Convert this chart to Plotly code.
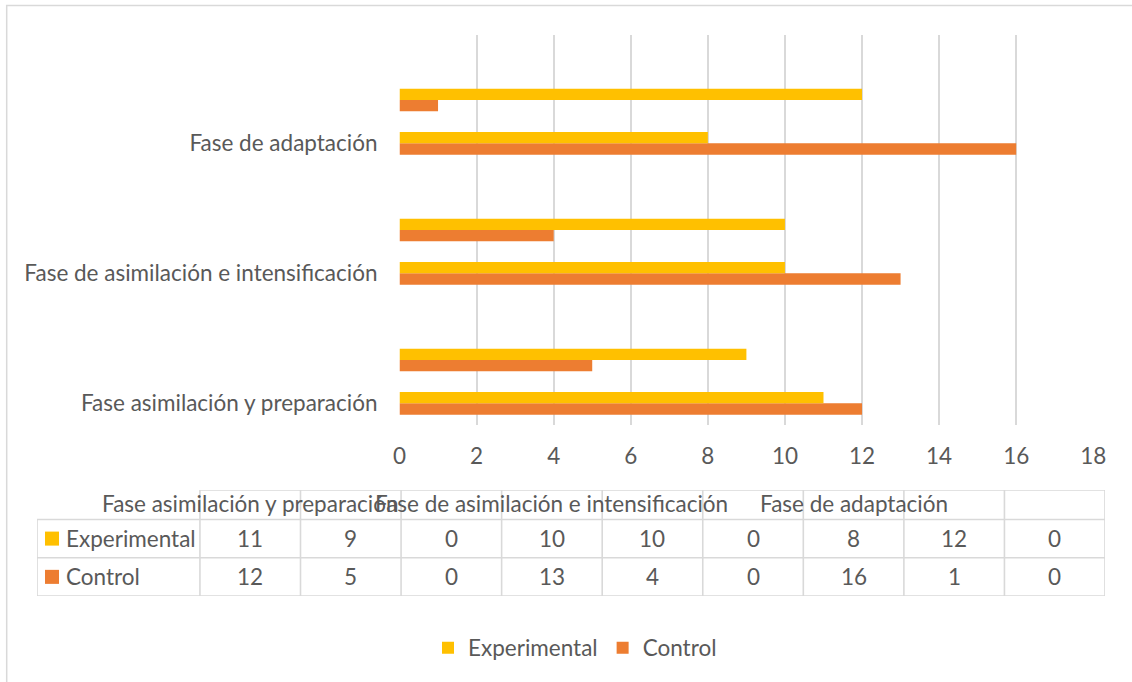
import plotly.graph_objects as go

# ---------------- data ----------------
categories = ["Fase asimilación y preparación", "", "",
              "Fase de asimilación e intensificación", "", "",
              "Fase de adaptación", "", ""]
series_names = ["Experimental", "Control"]
experimental = [11, 9, 0, 10, 10, 0, 8, 12, 0]
control = [12, 5, 0, 13, 4, 0, 16, 1, 0]
x_ticks = [0, 2, 4, 6, 8, 10, 12, 14, 16, 18]

# ---------------- style ----------------
YELLOW = "#FFC000"
ORANGE = "#ED7D31"
TEXT = "#595959"
GRID = "#D9D9D9"
FONT = "Lato"
FS = 22.5

W, H = 1132, 682
ML, MR, MT, MB = 37, 27, 35, 86
PW, PH = W - ML - MR, H - MT - MB


def px_x(p):
    return (p - ML) / PW


def px_y(p):
    return (H - MB - p) / PH


n = len(categories)
slots = list(range(n))

fig = go.Figure()
# Control first so it sits below Experimental in each slot
fig.add_trace(go.Bar(y=slots, x=control, orientation="h", name=series_names[1],
                     marker=dict(color=ORANGE, line=dict(width=0)), xaxis="x", yaxis="y"))
fig.add_trace(go.Bar(y=slots, x=experimental, orientation="h", name=series_names[0],
                     marker=dict(color=YELLOW, line=dict(width=0)), xaxis="x", yaxis="y"))

# ---------------- data table (hidden axes x2/y2 in column / row units) ----------------
col_px = (1105.4 - 200) / n
label_w = (200 - ML) / col_px  # width of label column in value-column units
header_h = 0.77
row_px = 38.2
shapes = []
line = dict(color=GRID, width=1.6)
# horizontal lines
for r in [0, 1, 2]:
    shapes.append(dict(type="line", xref="x2", yref="y2", x0=-label_w, x1=n, y0=r, y1=r, line=line))
shapes.append(dict(type="line", xref="x2", yref="y2", x0=0, x1=n, y0=2 + header_h, y1=2 + header_h, line=line))
# vertical lines
shapes.append(dict(type="line", xref="x2", yref="y2", x0=-label_w, x1=-label_w, y0=0, y1=2, line=line))
for c in range(n + 1):
    shapes.append(dict(type="line", xref="x2", yref="y2", x0=c, x1=c, y0=0, y1=2 + header_h, line=line))

annotations = []
rows = [(experimental, YELLOW, series_names[0], 1.5), (control, ORANGE, series_names[1], 0.5)]
key_x0 = -label_w + (45 - ML) / col_px
key_w = 14 / col_px
key_h = 14 / row_px
for vals, col, name, yc in rows:
    shapes.append(dict(type="rect", xref="x2", yref="y2", x0=key_x0, x1=key_x0 + key_w,
                       y0=yc - key_h / 2, y1=yc + key_h / 2, fillcolor=col, line=dict(width=0)))
    annotations.append(dict(xref="x2", yref="y2", x=key_x0 + key_w + 5 / col_px, y=yc, text=name,
                            showarrow=False, xanchor="left", yanchor="middle",
                            font=dict(family=FONT, size=FS, color=TEXT)))
    for i, v in enumerate(vals):
        annotations.append(dict(xref="x2", yref="y2", x=i + 0.5, y=yc, text=str(v), showarrow=False,
                                xanchor="center", yanchor="middle",
                                font=dict(family=FONT, size=FS, color=TEXT)))
for i, cat in enumerate(categories):
    if cat:
        annotations.append(dict(xref="x2", yref="y2", x=i + 0.5, y=2 + header_h / 2 + 0.02, text=cat,
                                showarrow=False, xanchor="center", yanchor="middle",
                                font=dict(family=FONT, size=FS, color=TEXT)))

# outer chart border
shapes.append(dict(type="rect", xref="paper", yref="paper", x0=px_x(6.7), x1=px_x(1150),
                   y0=px_y(720), y1=px_y(5.5), line=dict(color=GRID, width=1.5), layer="below"))

tick_idx = [i for i, c in enumerate(categories) if c]

fig.update_layout(
    width=W, height=H,
    margin=dict(l=ML, r=MR, t=MT, b=MB, pad=0),
    paper_bgcolor="white", plot_bgcolor="white",
    font=dict(family=FONT, size=FS, color=TEXT),
    barmode="group", bargap=0.478, bargroupgap=0,
    showlegend=True,
    legend=dict(orientation="h", x=px_x(575), xanchor="center", y=px_y(648), yanchor="middle",
                traceorder="reversed", font=dict(family=FONT, size=FS, color=TEXT),
                bgcolor="rgba(0,0,0,0)"),
    xaxis=dict(domain=[px_x(399.5), px_x(1093.3)], range=[0, 18], tickvals=x_ticks,
               showgrid=True, gridcolor=GRID, gridwidth=1.5, zeroline=False, showline=False,
               ticks="", ticklabelstandoff=15, anchor="y", fixedrange=True),
    yaxis=dict(domain=[px_y(425), 1], range=[-0.5, n - 0.5], tickvals=tick_idx,
               ticktext=[categories[i] for i in tick_idx], showgrid=False, zeroline=False,
               showline=False, ticks="", ticklabelstandoff=21, anchor="x", fixedrange=True),
    xaxis2=dict(domain=[0, 1], range=[-label_w, n], visible=False, anchor="y2", fixedrange=True),
    yaxis2=dict(domain=[0, px_y(490)], range=[0, 2 + header_h], visible=False, anchor="x2",
                fixedrange=True),
    shapes=shapes,
    annotations=annotations,
)

fig.write_html("out.html", config={"displayModeBar": False},
               post_script="document.body.style.margin='0';document.body.style.overflow='hidden';")
